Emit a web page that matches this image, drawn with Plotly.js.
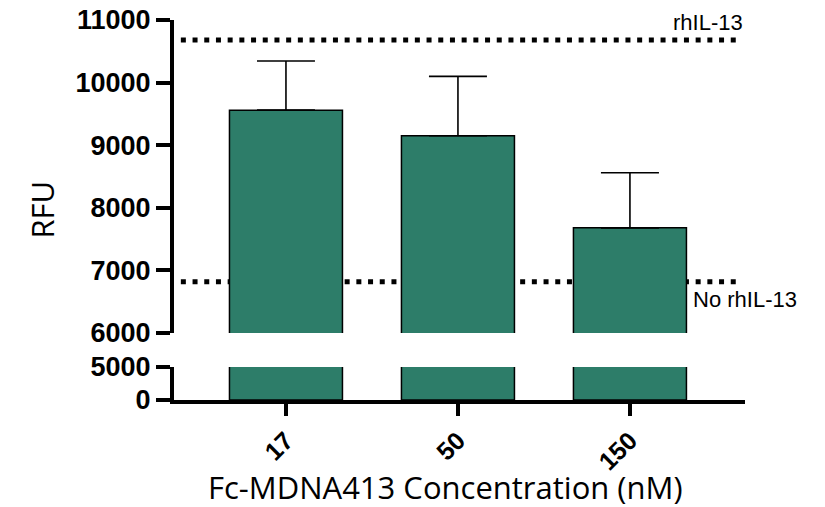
<!DOCTYPE html>
<html>
<head>
<meta charset="utf-8">
<script src="https://cdn.plot.ly/plotly-3.0.1.min.js"></script>
<style>
  html, body { margin: 0; padding: 0; background: #ffffff; }
  #chart { width: 825px; height: 507px; }
</style>
</head>
<body>
<div id="chart"></div>
<script>
// ---- data ----
const categories = ["17", "50", "150"];
const positions = [0, 1, 2];
const meanRFU = [9560, 9150, 7680];
const errRFU = [785, 950, 880];
const refLabels = ["rhIL-13", "No rhIL-13"];
const refValues = [10680, 6820];
const yTopTicks = [6000, 7000, 8000, 9000, 10000, 11000];
const yTopTickText = ["6000", "7000", "8000", "9000", "10000", "11000"];
const yBottomTicks = [0, 5000];
const yBottomTickText = ["0", "5000"];

const barColor = "#2d7d69";
const zeros = meanRFU.map(() => 0);

const traceTop = {
  type: "bar",
  x: positions,
  y: meanRFU,
  xaxis: "x",
  yaxis: "y2",
  width: 0.657,
  marker: { color: barColor, line: { color: "#000000", width: 1.5 } },
  error_y: {
    type: "data", symmetric: false, array: errRFU, arrayminus: zeros,
    color: "#000000", thickness: 1.6, width: 29
  },
  hoverinfo: "x+y",
  showlegend: false
};
const traceBottom = {
  type: "bar",
  x: positions,
  y: meanRFU,
  xaxis: "x",
  yaxis: "y",
  width: 0.657,
  marker: { color: barColor, line: { color: "#000000", width: 1.5 } },
  hoverinfo: "skip",
  showlegend: false
};

const axisCommon = {
  showline: true, linecolor: "#000000", linewidth: 4,
  ticks: "outside", tickcolor: "#000000", tickwidth: 4,
  showgrid: false, zeroline: false, fixedrange: true
};
const tickFontY = { family: "Liberation Sans, Arial, sans-serif", size: 27, color: "#000000", weight: "bold" };

const layout = {
  width: 825, height: 507,
  margin: { l: 174, r: 80, t: 20, b: 107 },
  paper_bgcolor: "#ffffff", plot_bgcolor: "rgba(0,0,0,0)",
  bargap: 0.3,
  xaxis: Object.assign({}, axisCommon, {
    range: [-0.651, 2.669],
    tickmode: "array", tickvals: positions, ticktext: categories,
    ticklen: 12, tickangle: -45,
    tickfont: { family: "Liberation Sans, Arial, sans-serif", size: 25, color: "#000000", weight: "bold" },
    anchor: "y"
  }),
  yaxis: Object.assign({}, axisCommon, {
    domain: [0, 0.0868], range: [0, 5000],
    tickmode: "array", tickvals: yBottomTicks, ticktext: yBottomTickText, ticklen: 14,
    tickfont: tickFontY, anchor: "x"
  }),
  yaxis2: Object.assign({}, axisCommon, {
    domain: [0.1763, 1], range: [6000, 11000],
    tickmode: "array", tickvals: yTopTicks, ticktext: yTopTickText, ticklen: 14,
    tickfont: tickFontY, anchor: "x"
  }),
  shapes: refValues.map(v => ({
    type: "line", layer: "below",
    xref: "paper", yref: "y2",
    x0: 0.012, x1: 0.987, y0: v, y1: v,
    line: { color: "#000000", width: 5, dash: "5px,6.7px" }
  })),
  annotations: [
    {
      text: refLabels[0], xref: "paper", yref: "y2",
      x: 1.0, y: refValues[0], xanchor: "right", yanchor: "bottom", yshift: 3,
      showarrow: false,
      font: { family: "Liberation Sans, Arial, sans-serif", size: 22, color: "#000000" }
    },
    {
      text: refLabels[1], xref: "paper", yref: "y2",
      x: 0.906, y: refValues[1], xanchor: "left", yanchor: "top", yshift: -3,
      showarrow: false,
      font: { family: "Liberation Sans, Arial, sans-serif", size: 22, color: "#000000" }
    },
    {
      text: "RFU", xref: "paper", yref: "paper",
      x: -0.232, y: 0.5, xanchor: "center", yanchor: "middle",
      textangle: -90, showarrow: false,
      font: { family: "Open Sans, Noto Sans, sans-serif", size: 31, color: "#000000" }
    },
    {
      text: "Fc-MDNA413 Concentration (nM)", xref: "paper", yref: "paper",
      x: 0.476, y: 0, yshift: -64, xanchor: "center", yanchor: "top",
      showarrow: false,
      font: { family: "Open Sans, Noto Sans, sans-serif", size: 31, color: "#000000" }
    }
  ]
};

Plotly.newPlot("chart", [traceBottom, traceTop], layout, { displayModeBar: false, staticPlot: true });
</script>
</body>
</html>
